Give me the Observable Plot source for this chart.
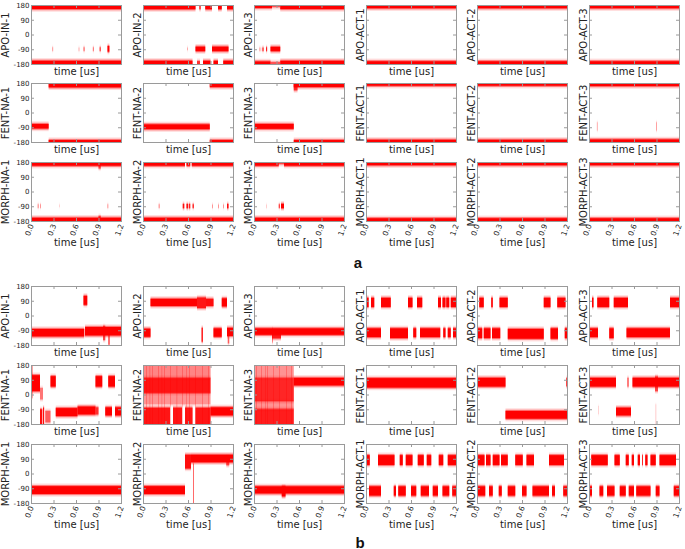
<!DOCTYPE html>
<html><head><meta charset="utf-8">
<script src="https://cdn.jsdelivr.net/npm/d3@7"></script>
<script src="https://cdn.jsdelivr.net/npm/@observablehq/plot@0.6"></script>
<style>
html,body{margin:0;padding:0;background:#fff;}
#root{position:relative;width:685px;height:549px;overflow:hidden;font-family:"DejaVu Sans",sans-serif;}
.lab{position:absolute;font:bold 15px "Liberation Sans",Arial,sans-serif;transform:translate(-50%,-50%);color:#111;}
</style></head><body><div id="root"></div>
<script>
// ---------- labels & ticks ----------
const namesAPO = ["APO-IN-1","APO-IN-2","APO-IN-3","APO-ACT-1","APO-ACT-2","APO-ACT-3"];
const namesFENT = ["FENT-NA-1","FENT-NA-2","FENT-NA-3","FENT-ACT-1","FENT-ACT-2","FENT-ACT-3"];
const namesMORPH = ["MORPH-NA-1","MORPH-NA-2","MORPH-NA-3","MORPH-ACT-1","MORPH-ACT-2","MORPH-ACT-3"];
const xTicks = [0, 0.3, 0.6, 0.9, 1.2];
const yTicks = [-180, -90, 0, 90, 180];
const xInner = [0.3, 0.6, 0.9];
const yInner = [-90, 0, 90];
const timeLabel = "time [us]";

// ---------- data: [panel, t0 (us), t1 (us), angle low, angle high, density] ----------
const aAPO = [
 [0,0,1.2,155,180,1],[0,0,1.2,-180,-160,1],
 [0,0.285,0.295,-100,-78,0.4],[0,0.635,0.645,-100,-80,0.3],[0,0.70,0.715,-100,-78,0.5],
 [0,0.825,0.835,-100,-78,0.6],[0,0.915,0.93,-100,-78,0.7],[0,1.02,1.045,-105,-70,1],
 [1,0,0.70,154,180,1],[1,0.75,0.77,154,180,0.7],[1,0.83,0.92,154,180,1],[1,1.0,1.05,154,180,1],[1,1.12,1.2,154,180,1],
 [1,0,0.66,-180,-160,1],[1,0.72,0.76,-180,-162,0.7],[1,0.80,0.90,-180,-160,1],[1,0.94,1.0,-180,-160,1],[1,1.07,1.2,-180,-160,1],
 [1,0.70,0.83,-102,-74,1],[1,0.92,1.14,-102,-74,1],[1,0.59,0.60,-95,-80,0.3],
 [2,0,0.24,162,180,1],[2,0.24,0.35,167,180,0.55],[2,0.35,1.2,155,180,1],
 [2,0,0.22,-180,-164,1],[2,0.22,0.35,-180,-168,0.55],[2,0.35,1.2,-180,-160,1],
 [2,0.07,0.075,-100,-80,0.5],[2,0.09,0.095,-100,-80,0.5],[2,0.11,0.13,-100,-80,0.6],
 [2,0.16,0.175,-100,-78,0.8],[2,0.22,0.35,-102,-75,1],
 [3,0,1.2,160,180,1],[3,0,1.2,-180,-163,1],
 [4,0,1.2,160,180,1],[4,0,1.2,-180,-163,1],
 [5,0,1.2,160,180,1],[5,0,1.2,-180,-163,1]
];
const aFENT = [
 [0,0,0.235,-98,-70,1],[0,0.235,1.2,153,180,1],[0,0.235,1.2,-180,-168,1],
 [1,0,0.89,-102,-72,1],[1,0.89,1.2,155,180,1],[1,0.89,1.2,-180,-168,1],
 [2,0,0.53,-100,-70,1],[2,0.53,1.2,155,180,1],[2,0.53,0.58,135,180,0.7],[2,0.53,1.2,-180,-168,1],
 [3,0,1.2,163,180,1],[3,0,1.2,-180,-166,1],
 [4,0,1.2,163,180,1],[4,0,1.2,-180,-166,1],
 [5,0,1.2,161,180,1],[5,0,1.2,-180,-164,1],
 [5,0.105,0.115,-110,-60,0.3],[5,0.895,0.905,-110,-60,0.35]
];
const aMORPH = [
 [0,0,1.2,157,180,1],[0,0.90,0.93,140,180,0.6],[0,0,1.2,-180,-160,1],[0,0.90,0.93,-180,-150,0.6],
 [0,0.09,0.10,-100,-78,0.5],[0,0.12,0.13,-100,-78,0.4],[0,0.38,0.385,-95,-80,0.3],[0,1.02,1.03,-100,-78,0.4],
 [1,0,0.56,157,180,1],[1,0.58,0.63,157,180,1],[1,0.65,1.2,157,180,1],[1,0,1.2,-180,-160,1],
 [1,0.21,0.22,-100,-78,0.5],[1,0.53,0.55,-102,-76,0.9],[1,0.58,0.60,-102,-76,0.9],[1,0.61,0.63,-102,-76,0.8],
 [1,0.66,0.68,-100,-78,0.7],[1,0.92,0.93,-100,-80,0.4],[1,1.0,1.01,-100,-80,0.4],[1,1.07,1.08,-100,-80,0.4],[1,1.12,1.14,-102,-76,0.9],
 [2,0,0.33,157,180,1],[2,0.33,0.40,167,180,0.6],[2,0.40,1.2,157,180,1],[2,0,1.2,-180,-160,1],
 [2,0.16,0.165,-100,-80,0.35],[2,0.33,0.345,-100,-78,0.7],[2,0.36,0.40,-102,-75,1],
 [3,0,1.2,160,180,1],[3,0,1.2,-180,-163,1],
 [4,0,1.2,160,180,1],[4,0,1.2,-180,-163,1],
 [5,0,1.2,160,180,1],[5,0,1.2,-180,-163,1]
];
const bAPO = [
 [0,0,0.71,-128,-82,1],[0,0.70,0.75,65,120,1],[0,0.72,1.2,-122,-70,1],[0,0.96,0.99,-150,-65,0.6],[0,1.03,1.05,-178,-110,0.55],
 [1,0,0.10,-130,-80,1],[1,0.10,0.72,58,102,1],[1,0.72,0.84,45,110,0.85],[1,0.84,0.94,58,102,0.9],
 [1,0.78,0.80,-160,-75,0.75],[1,0.94,1.05,-130,-78,1],[1,1.05,1.12,55,105,1],[1,1.12,1.2,-125,-75,1],[1,1.13,1.15,-170,-120,0.5],
 [2,0,1.2,-118,-78,1],[2,0.24,0.36,-140,-95,0.8],[2,0.24,0.25,-165,-80,0.45],
 [3,0,0.035,52,108,1],[3,0.067,0.11,52,108,1],[3,0.2,0.33,52,108,1],[3,0.56,0.62,52,108,1],[3,0.68,0.75,52,108,1],
 [3,0.96,1.0,52,108,1],[3,1.02,1.06,52,108,1],[3,1.07,1.11,52,108,1],[3,1.13,1.2,52,108,1],
 [3,0,0.2,-132,-78,1],[3,0.32,0.56,-138,-78,1],[3,0.63,0.67,-132,-78,1],[3,0.72,0.99,-132,-78,1],
 [3,1.03,1.06,-132,-78,1],[3,1.09,1.13,-132,-78,1],[3,1.16,1.2,-132,-78,1],
 [4,0.03,0.09,52,108,1],[4,0.19,0.21,52,108,1],[4,0.30,0.41,52,108,1],[4,0.89,0.98,52,108,1],[4,1.07,1.18,52,108,1],
 [4,0,0.07,-138,-78,1],[4,0.09,0.18,-138,-78,1],[4,0.20,0.31,-138,-78,1],[4,0.41,0.89,-142,-82,1],[4,0.98,1.08,-142,-78,1],[4,1.17,1.2,-138,-78,1],
 [5,0.04,0.06,52,108,1],[5,0.11,0.27,52,108,1],[5,0.33,0.52,52,108,1],[5,1.08,1.2,52,108,1],
 [5,0,0.12,-132,-78,1],[5,0.27,0.33,-138,-78,1],[5,0.50,1.08,-132,-78,1]
];
const bFENT = [
 [0,0,0.02,-20,180,0.5],[0,0.01,0.12,20,118,1],[0,0.12,0.16,-30,40,0.4],[0,0.12,0.15,-180,-90,0.9],
 [0,0.16,0.175,-180,-80,0.9],[0,0.19,0.26,-170,-100,0.5],[0,0.26,0.33,48,112,1],
 [0,0.33,0.62,-132,-83,1],[0,0.62,0.86,-122,-73,1],[0,0.86,0.95,48,112,1],[0,0.86,0.90,-122,-78,0.7],
 [0,0.99,1.08,-128,-78,1],[0,1.03,1.12,48,112,1],[0,1.12,1.2,-128,-78,1],
 [1,0,0.9,100,180,0.35],[1,0,0.9,10,100,0.85],[1,0,0.9,-60,10,0.3],[1,0,0.36,-180,-80,0.85],[1,0.40,0.52,-180,-80,0.85],
 [1,0.56,0.66,-180,-80,0.85],[1,0.70,0.9,-180,-80,0.85],
 [1,0.04,0.045,-180,180,0.45],[1,0.09,0.095,-180,180,0.4],[1,0.12,0.125,-180,180,0.45],[1,0.2,0.205,-180,180,0.45],
 [1,0.25,0.255,-180,180,0.4],[1,0.28,0.285,-180,180,0.45],[1,0.36,0.365,-180,180,0.45],[1,0.45,0.455,-180,180,0.45],
 [1,0.52,0.525,-180,180,0.45],[1,0.58,0.585,-180,180,0.4],[1,0.62,0.625,-180,180,0.45],[1,0.70,0.705,-180,180,0.45],
 [1,0.79,0.795,-180,180,0.45],[1,0.87,0.875,-180,180,0.45],
 [1,0.9,1.2,-128,-78,1],
 [2,0,0.53,100,180,0.3],[2,0,0.53,-40,100,0.75],[2,0,0.53,-90,-40,0.3],[2,0,0.53,-180,-90,0.8],
 [2,0.03,0.035,-180,180,0.45],[2,0.10,0.105,-180,180,0.45],[2,0.15,0.155,-180,180,0.4],[2,0.18,0.185,-180,180,0.45],
 [2,0.26,0.265,-180,180,0.45],[2,0.34,0.345,-180,180,0.45],[2,0.43,0.435,-180,180,0.45],[2,0.50,0.505,-180,180,0.45],
 [2,0.53,1.2,55,102,1],
 [3,0,1.2,42,100,1],
 [4,0,0.38,48,102,1],[4,0.38,1.2,-148,-100,1],[4,1.19,1.2,50,100,0.8],
 [5,0,0.36,48,102,1],[5,0.515,0.525,48,102,1],[5,0.58,1.2,48,102,1],[5,0.88,0.92,20,110,0.6],
 [5,0.36,0.56,-128,-80,1],[5,0.12,0.125,-120,-70,0.3],[5,0.89,0.895,-180,-60,0.35]
];
const bMORPH = [
 [0,0,1.2,-125,-77,1],
 [1,0,0.56,-125,-77,1],[1,0.56,0.64,30,115,0.9],[1,0.67,0.68,-180,60,0.6],[1,0.64,1.2,68,115,1],[1,1.11,1.15,50,100,0.6],
 [2,0,1.2,-122,-78,1],[2,0.37,0.42,-140,-80,1],
 [3,0,0.05,52,112,1],[3,0.16,0.38,52,112,1],[3,0.45,0.49,52,112,1],[3,0.53,0.62,52,112,1],[3,0.69,0.77,52,112,1],
 [3,0.81,0.87,52,112,1],[3,0.97,1.03,52,112,1],[3,1.09,1.2,52,112,1],
 [3,0.04,0.2,-135,-78,1],[3,0.37,0.40,-135,-78,1],[3,0.43,0.53,-135,-78,1],[3,0.60,0.67,-135,-78,1],[3,0.73,0.84,-135,-78,1],
 [3,0.89,0.96,-135,-78,1],[3,1.02,1.11,-135,-78,1],[3,1.15,1.2,-135,-78,1],
 [4,0.01,0.10,52,112,1],[4,0.12,0.18,52,112,1],[4,0.21,0.30,52,112,1],[4,0.32,0.41,52,112,1],[4,0.51,0.61,52,112,1],
 [4,0.66,0.76,52,112,1],[4,0.96,1.16,52,112,1],
 [4,0,0.11,-135,-78,1],[4,0.16,0.21,-135,-78,1],[4,0.29,0.33,-135,-78,1],[4,0.41,0.51,-135,-78,1],[4,0.60,0.66,-135,-78,1],
 [4,0.74,0.96,-135,-78,1],[4,1.0,1.04,-135,-78,1],[4,1.15,1.2,-135,-78,1],
 [5,0.03,0.25,52,112,1],[5,0.34,0.41,52,112,1],[5,0.49,0.53,52,112,1],[5,0.57,0.60,52,112,1],[5,0.65,0.68,52,112,1],
 [5,0.71,0.72,52,112,1],[5,0.75,0.78,52,112,1],[5,0.82,0.89,52,112,1],[5,0.94,1.16,52,112,1],
 [5,0,0.04,-135,-78,1],[5,0.14,0.19,-135,-78,1],[5,0.24,0.34,-135,-78,1],[5,0.41,0.49,-135,-78,1],[5,0.53,0.60,-135,-78,1],
 [5,0.63,0.82,-135,-78,1],[5,0.89,0.94,-135,-78,1],[5,1.13,1.2,-135,-78,1]
];

// ---------- layout ----------
const W = 90, H = 59;
const colLeft = [31, 142.5, 254, 365.5, 477, 588.5];
const rowTopA = [5, 83.3, 162];
const rowTopB = [285.5, 364.5, 443.5];
const RED = "#ff0000", FRAME = "#9a9a9a", TXT = "#222";
const root = document.getElementById("root");

function drawPanel(name, segs, col, top, isBottom) {
  const ML = 32, MR = 4, MT = 4, MB = isBottom ? 48 : 18;
  const marks = [
    Plot.rect(segs, {x1: d => d[1], x2: d => d[2], y1: d => d[3] - 16, y2: d => d[4] + 16, fill: RED, fillOpacity: d => 0.14 * d[5], clip: true}),
    Plot.rect(segs, {x1: d => d[1], x2: d => d[2], y1: d => d[3] - 7, y2: d => d[4] + 7, fill: RED, fillOpacity: d => 0.45 * d[5], clip: true}),
    Plot.rect(segs, {x1: d => d[1], x2: d => d[2], y1: d => d[3], y2: d => d[4], fill: RED, fillOpacity: d => d[5], clip: true}),
    Plot.tickY(yInner, {y: d => d, stroke: FRAME, insetRight: W - 3}),
    Plot.tickY(yInner, {y: d => d, stroke: FRAME, insetLeft: W - 3}),
    Plot.tickX(xInner, {x: d => d, stroke: FRAME, insetBottom: H - 3}),
    Plot.tickX(xInner, {x: d => d, stroke: FRAME, insetTop: H - 3}),
    Plot.frame({stroke: FRAME}),
    Plot.text([name], {text: d => d, frameAnchor: "left", rotate: -90, dx: col === 0 ? -22.5 : -2.7, lineAnchor: "bottom", textAnchor: "middle", fontSize: 10, fill: TXT}),
    Plot.text([timeLabel], {text: d => d, frameAnchor: "bottom", dy: isBottom ? 21 : 7, lineAnchor: "middle", fontSize: 10, fill: TXT})
  ];
  if (col === 0) marks.push(Plot.axisY(yTicks, {anchor: "left", tickSize: 0, tickPadding: 2, fontSize: 7, tickFormat: d => String(d), color: TXT}));
  if (isBottom) marks.push(Plot.axisX(xTicks, {anchor: "bottom", tickSize: 0, tickPadding: 3, tickRotate: -70, fontSize: 7.5, tickFormat: d => d.toFixed(1), color: TXT}));
  const svg = Plot.plot({
    width: ML + W + MR, height: MT + H + MB,
    marginLeft: ML, marginRight: MR, marginTop: MT, marginBottom: MB,
    x: {domain: [0, 1.2], axis: null}, y: {domain: [-180, 180], axis: null},
    style: {background: "none", overflow: "visible", fontFamily: "DejaVu Sans"},
    marks
  });
  svg.style.position = "absolute";
  svg.style.left = (colLeft[col] - ML) + "px";
  svg.style.top = (top - MT) + "px";
  root.appendChild(svg);
}

function drawGroup(rowTops, groups) {
  groups.forEach(([names, segs], r) => {
    names.forEach((name, c) => drawPanel(name, segs.filter(s => s[0] === c), c, rowTops[r], r === 2));
  });
}
drawGroup(rowTopA, [[namesAPO, aAPO], [namesFENT, aFENT], [namesMORPH, aMORPH]]);
drawGroup(rowTopB, [[namesAPO, bAPO], [namesFENT, bFENT], [namesMORPH, bMORPH]]);

for (const [t, x, y] of [["a", 358, 262], ["b", 360, 542]]) {
  const d = document.createElement("div");
  d.className = "lab"; d.textContent = t;
  d.style.left = x + "px"; d.style.top = y + "px";
  root.appendChild(d);
}
</script></body></html>
